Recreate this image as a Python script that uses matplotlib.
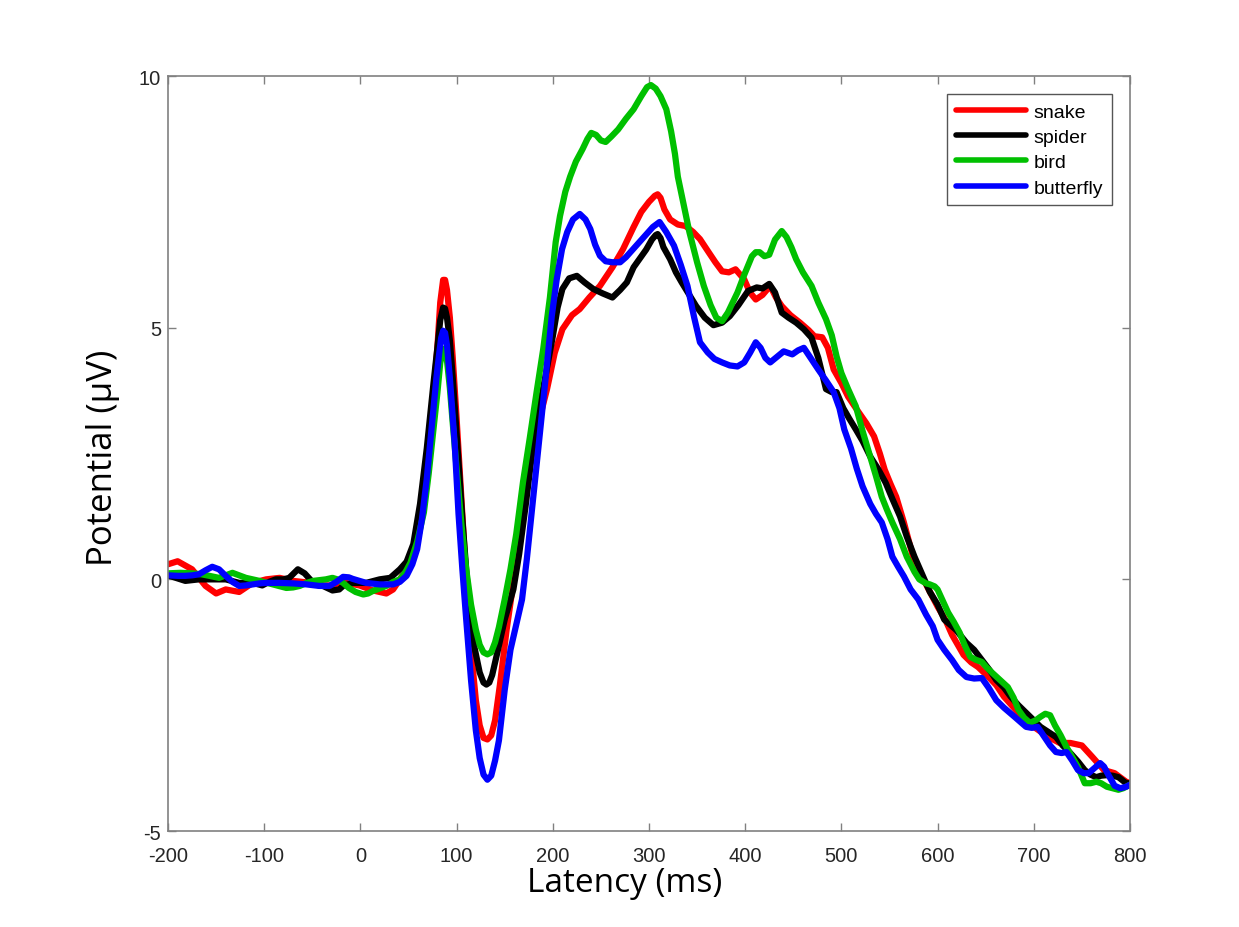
import numpy as np
import matplotlib
matplotlib.use("Agg")
import matplotlib.pyplot as plt

# ---- ERP waveforms (latency in ms, potential in µV) ----
snake_t = [-200, -190, -175, -161, -150, -140, -126, -112, -98, -84, -70, -56, -43, -29, -15, -1,
           13, 27, 34, 41, 48, 55, 62, 69, 76, 80, 83, 86, 88, 90, 93, 96, 100, 105, 110, 115,
           120, 124, 128, 132, 136, 140, 145, 152, 158, 165, 176, 185, 194, 202, 210, 220, 228,
           238, 249, 262, 273, 284, 292, 300, 306, 309, 312, 316, 322, 330, 338, 346, 353, 362,
           369, 376, 383, 390, 399, 405, 411, 418, 426, 432, 438, 447, 457, 466, 472, 480, 486,
           492, 500, 507, 518, 526, 534, 540, 545, 551, 557, 565, 571, 576, 588, 600, 608, 615,
           627, 635, 642, 653, 661, 669, 684, 700, 715, 727, 738, 750, 761, 773, 784, 796, 800]
snake_v = [0.30, 0.36, 0.20, -0.13, -0.28, -0.20, -0.25, -0.07, 0.0, 0.03, -0.03, -0.06, -0.12,
           -0.12, -0.07, -0.12, -0.22, -0.28, -0.2, 0.0, 0.2, 0.6, 1.26, 2.35, 3.65, 4.6, 5.5,
           5.95, 5.95, 5.75, 5.2, 4.4, 3.2, 1.6, 0.0, -1.4, -2.4, -2.9, -3.15, -3.18, -3.1,
           -2.8, -2.1, -1.0, -0.2, 0.8, 2.25, 3.1, 3.78, 4.5, 4.97, 5.25, 5.37, 5.6, 5.83, 6.2,
           6.56, 7.0, 7.3, 7.5, 7.62, 7.65, 7.58, 7.35, 7.15, 7.05, 7.02, 6.9, 6.76, 6.5, 6.3,
           6.12, 6.1, 6.16, 5.96, 5.7, 5.56, 5.65, 5.83, 5.6, 5.43, 5.25, 5.1, 4.95, 4.83, 4.81,
           4.6, 4.17, 3.9, 3.63, 3.32, 3.1, 2.84, 2.5, 2.18, 1.9, 1.64, 1.13, 0.7, 0.33, -0.1,
           -0.54, -0.8, -1.1, -1.5, -1.65, -1.74, -1.94, -2.1, -2.33, -2.65, -2.93, -3.13, -3.25,
           -3.25, -3.3, -3.53, -3.79, -3.85, -4.02, -4.05]

spider_t = [-200, -190, -182, -168, -154, -140, -126, -112, -102, -95, -88, -80, -74, -65, -58,
            -49, -39, -29, -22, -18, -8, 6, 20, 31, 41, 48, 55, 62, 69, 76, 80, 83, 86, 88, 90,
            93, 96, 100, 106, 112, 118, 124, 128, 131, 134, 137, 143, 150, 159, 165, 172, 179,
            186, 193, 200, 205, 210, 217, 225, 233, 242, 252, 262, 270, 277, 284, 290, 297, 303,
            307, 309, 312, 315, 322, 328, 334, 342, 349, 358, 367, 376, 384, 393, 403, 412, 418,
            425, 431, 438, 445, 453, 461, 469, 476, 484, 490, 495, 502, 508, 515, 522, 530, 538,
            546, 553, 561, 568, 576, 584, 592, 600, 607, 619, 630, 638, 646, 654, 661, 669, 676,
            684, 692, 700, 707, 715, 723, 730, 738, 746, 753, 759, 765, 770, 776, 782, 788, 796,
            800]
spider_v = [0.08, 0.02, -0.03, 0.0, 0.0, 0.0, -0.07, -0.07, -0.12, -0.05, 0.0, 0.0, 0.03, 0.2,
            0.12, -0.07, -0.13, -0.22, -0.2, -0.13, -0.07, -0.07, 0.0, 0.03, 0.2, 0.35, 0.7, 1.5,
            2.6, 3.9, 4.6, 5.15, 5.4, 5.38, 5.2, 4.75, 4.0, 2.9, 1.2, -0.3, -1.3, -1.85, -2.05,
            -2.09, -2.05, -1.9, -1.4, -0.8, -0.2, 0.5, 1.5, 2.59, 3.4, 4.1, 4.83, 5.4, 5.77,
            5.98, 6.03, 5.9, 5.77, 5.68, 5.6, 5.75, 5.9, 6.2, 6.36, 6.55, 6.75, 6.84, 6.86, 6.78,
            6.6, 6.36, 6.1, 5.9, 5.65, 5.43, 5.2, 5.05, 5.1, 5.23, 5.45, 5.73, 5.8, 5.78, 5.87,
            5.7, 5.3, 5.2, 5.1, 4.97, 4.8, 4.4, 3.78, 3.72, 3.72, 3.4, 3.2, 2.98, 2.75, 2.44,
            2.2, 1.92, 1.6, 1.25, 0.85, 0.45, 0.1, -0.25, -0.5, -0.8, -1.0, -1.26, -1.4, -1.6,
            -1.8, -2.0, -2.15, -2.33, -2.5, -2.65, -2.8, -2.93, -3.03, -3.13, -3.3, -3.45, -3.62,
            -3.79, -3.88, -3.93, -3.9, -3.89, -3.9, -3.93, -4.05, -4.05]

bird_t = [-200, -187, -175, -165, -157, -147, -140, -133, -126, -119, -105, -91, -77, -70, -63,
          -56, -49, -36, -29, -24, -18, -12, -5, 3, 8, 13, 20, 27, 34, 41, 47, 52, 59, 66, 71,
          76, 80, 83, 86, 88, 90, 93, 96, 100, 105, 110, 115, 120, 124, 128, 132, 136, 140, 144,
          150, 156, 162, 169, 176, 183, 190, 197, 203, 207.5, 213, 218, 224, 231, 236, 240, 245,
          250, 255, 261, 268, 276, 284, 292, 298, 302, 307, 312, 318, 323, 327, 330, 336, 342,
          350, 357, 364, 370, 376, 382, 387, 392, 399, 407, 411, 415, 420, 425, 431, 438, 443,
          448, 453, 460, 469, 476, 484, 490, 495, 500, 507, 515, 522, 530, 536, 542, 547, 553,
          561, 568, 576, 581, 588, 592, 597, 600, 606, 611, 617, 623, 628, 634, 640, 646, 651,
          657, 665, 673, 679, 684, 690, 696, 702, 707, 712, 717, 722, 728, 734, 740, 746, 753,
          759, 765, 770, 776, 782, 788, 793, 796, 800]
bird_v = [0.12, 0.13, 0.12, 0.1, 0.07, 0.03, 0.08, 0.13, 0.08, 0.03, -0.03, -0.1, -0.17, -0.16,
          -0.13, -0.07, -0.03, 0.0, 0.03, 0.0, -0.07, -0.17, -0.25, -0.3, -0.28, -0.23, -0.18,
          -0.13, -0.05, 0.0, 0.15, 0.33, 0.75, 1.33, 2.1, 2.98, 3.7, 4.3, 4.58, 4.55, 4.35, 3.8,
          3.1, 2.2, 1.1, 0.2, -0.5, -1.0, -1.3, -1.45, -1.49, -1.45, -1.25, -0.95, -0.4, 0.2,
          0.9, 1.93, 2.8, 3.7, 4.57, 5.6, 6.7, 7.22, 7.7, 8.0, 8.3, 8.55, 8.75, 8.87, 8.83,
          8.72, 8.69, 8.8, 8.94, 9.15, 9.34, 9.6, 9.78, 9.82, 9.75, 9.6, 9.34, 8.9, 8.45, 8.0,
          7.45, 6.9, 6.3, 5.83, 5.45, 5.2, 5.13, 5.3, 5.5, 5.7, 6.05, 6.42, 6.5, 6.5, 6.42,
          6.45, 6.75, 6.92, 6.8, 6.6, 6.36, 6.1, 5.83, 5.5, 5.17, 4.85, 4.43, 4.1, 3.78, 3.44,
          2.95, 2.44, 2.05, 1.64, 1.4, 1.13, 0.8, 0.45, 0.15, 0.0, -0.08, -0.1, -0.14, -0.2,
          -0.45, -0.66, -0.85, -1.06, -1.3, -1.54, -1.6, -1.64, -1.75, -1.86, -2.0, -2.14,
          -2.35, -2.59, -2.75, -2.85, -2.8, -2.73, -2.67, -2.7, -2.9, -3.1, -3.33, -3.53, -3.73,
          -4.05, -4.05, -4.02, -4.05, -4.12, -4.15, -4.18, -4.15, -4.12, -4.08]

butterfly_t = [-200, -190, -182, -175, -168, -161, -154, -147, -140, -133, -126, -119, -112,
               -105, -98, -84, -70, -56, -43, -32, -25, -18, -12, -8, 6, 20, 34, 41, 48, 54, 59,
               64, 69, 74, 79, 82, 84, 86, 88, 90, 93, 98, 102, 106, 110, 115, 120, 124, 128,
               132, 136, 140, 144, 150, 156, 162, 168, 173, 179, 185, 192, 199, 204, 209.6, 215,
               221, 228, 234, 239, 244, 249, 255, 262, 270, 276, 283, 290, 297, 304, 311, 318,
               326, 333, 340, 347, 353, 361, 368, 376, 384, 392, 399, 405, 411, 416, 421, 426,
               433, 440, 449, 455, 461, 468, 476, 484, 492, 498, 503, 510, 516, 522, 530, 536,
               542, 548, 553, 559, 565, 572, 580, 588, 595, 600, 607, 615, 622, 630, 638, 646,
               653, 661, 669, 680, 692, 698, 704, 711, 717, 723, 729, 734, 740, 746, 752, 757,
               763, 769, 773, 778, 784, 790, 796, 800]
butterfly_v = [0.08, 0.07, 0.07, 0.08, 0.1, 0.18, 0.25, 0.2, 0.07, -0.05, -0.13, -0.12, -0.1,
               -0.08, -0.07, -0.07, -0.08, -0.1, -0.13, -0.13, -0.05, 0.05, 0.04, 0.01, -0.07,
               -0.1, -0.1, -0.05, 0.07, 0.3, 0.6, 1.2, 2.0, 3.0, 4.0, 4.5, 4.8, 4.94, 4.9, 4.65,
               4.0, 2.7, 1.3, 0.2, -0.8, -2.0, -3.0, -3.55, -3.88, -3.98, -3.9, -3.6, -3.2, -2.2,
               -1.4, -0.9, -0.4, 0.4, 1.5, 2.59, 3.9, 5.24, 5.95, 6.56, 6.9, 7.15, 7.26, 7.15,
               6.96, 6.65, 6.43, 6.32, 6.3, 6.3, 6.4, 6.55, 6.7, 6.85, 7.0, 7.1, 6.9, 6.63, 6.25,
               5.83, 5.2, 4.71, 4.51, 4.38, 4.31, 4.25, 4.23, 4.31, 4.5, 4.71, 4.6, 4.4, 4.31,
               4.42, 4.53, 4.47, 4.55, 4.6, 4.4, 4.17, 3.95, 3.72, 3.4, 2.98, 2.6, 2.2, 1.85, 1.5,
               1.3, 1.13, 0.8, 0.45, 0.25, 0.06, -0.2, -0.4, -0.7, -0.93, -1.2, -1.4, -1.6, -1.8,
               -1.94, -1.97, -1.96, -2.15, -2.4, -2.55, -2.73, -2.93, -2.95, -2.93, -3.13, -3.3,
               -3.43, -3.45, -3.43, -3.6, -3.79, -3.85, -3.85, -3.75, -3.65, -3.72, -3.9, -4.1,
               -4.15, -4.12, -4.08]

series = [
    ("snake", snake_t, snake_v, "#ff0000"),
    ("spider", spider_t, spider_v, "#000000"),
    ("bird", bird_t, bird_v, "#00c000"),
    ("butterfly", butterfly_t, butterfly_v, "#0000ff"),
]

x_ticks = [-200, -100, 0, 100, 200, 300, 400, 500, 600, 700, 800]
y_ticks = [-5, 0, 5, 10]

plt.rcParams["font.family"] = ["Liberation Sans", "DejaVu Sans"]
plt.rcParams["axes.unicode_minus"] = False

fig = plt.figure(figsize=(12.39, 9.28), dpi=100)
ax = fig.add_axes([0.1356, 0.1034, 0.7764, 0.8136])

for name, t, v, color in series:
    ax.plot(t, v, color=color, lw=4.5, label=name,
            solid_joinstyle="round", solid_capstyle="round")

ax.set_xlim(-200, 800)
ax.set_ylim(-5, 10)
ax.set_xticks(x_ticks)
ax.set_yticks(y_ticks)
ax.tick_params(direction="in", length=6, width=1, colors="#808080",
               labelcolor="#262626", labelsize=14.5, top=True, right=True)
ax.tick_params(axis="x", pad=11)
ax.tick_params(axis="y", pad=5)
for s in ax.spines.values():
    s.set_color("#808080")
    s.set_linewidth(1.2)

leg = ax.legend(loc="upper right", bbox_to_anchor=(0.981, 0.976), fontsize=14,
                handlelength=3.6, labelspacing=0.4, handletextpad=0.4,
                borderpad=0.45, fancybox=False, framealpha=1, borderaxespad=0)
leg.get_frame().set_edgecolor("#555555")
leg.get_frame().set_linewidth(1.0)
for line in leg.get_lines():
    line.set_linewidth(4)

# axis titles in a separate humanist font, as in the original
fig.text(625 / 1239, 1 - 884 / 928, "Latency (ms)", family="Open Sans",
         fontsize=24, ha="center", va="center")
fig.text(103 / 1239, 1 - 458 / 928, "Potential (µV)", family="Open Sans",
         fontsize=25, ha="center", va="center", rotation=90)

fig.savefig("out.png", dpi=100)
